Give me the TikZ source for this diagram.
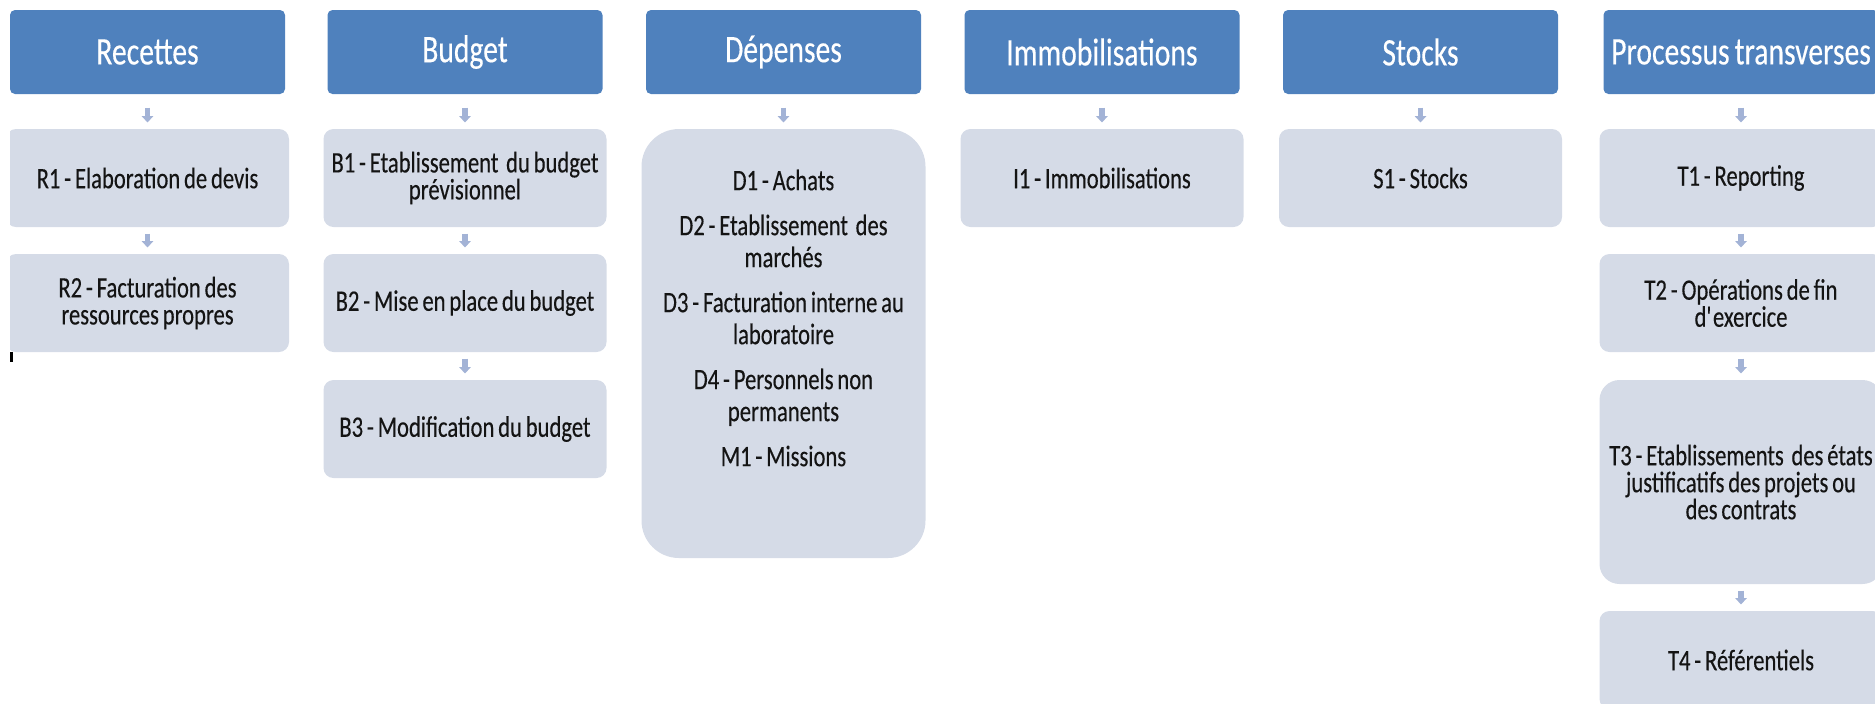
\documentclass[tikz,border=0pt]{standalone}
\usepackage{fontspec}
\setmainfont[FakeStretch=0.76, WordSpace=0.75, FakeBold=0.3]{Carlito}
\usetikzlibrary{arrows.meta}
\definecolor{hdrblue}{HTML}{4F81BD}
\definecolor{childfill}{HTML}{D5DBE7}
\definecolor{arrowc}{HTML}{A3B3D6}
\def\ux{0.4pt}
\tikzset{
  hdr/.style={fill=hdrblue, rounded corners=2pt, minimum width={275*\ux}, minimum height={84*\ux},
    inner sep=0pt, text=white, font=\fontsize{15.6}{17}\selectfont},
  child/.style={fill=childfill, rounded corners=4pt, minimum width={283*\ux}, minimum height={98*\ux},
    inner sep=0pt, align=center, text=black!92,
    font=\fontsize{11.9}{10.8}\selectfont},
  bigchild/.style={child, rounded corners=8pt},
  hugechild/.style={child, rounded corners=15pt},
  txt/.style={inner sep=0pt, align=center, text=black!92,
    font=\fontsize{11.9}{12.8}\selectfont},
  flowarrow/.style={draw=arrowc, line width=2.2pt, -{Triangle[width=4.6pt,length=2.6pt]}},
  harrow/.style={flowarrow, shorten <={13*\ux}, shorten >={6*\ux}},
  carrow/.style={flowarrow, shorten <={6*\ux}, shorten >={6*\ux}}
}
\begin{document}
\begin{tikzpicture}[x=0.4pt, y=-0.4pt]
\useasboundingbox (0,0) rectangle (1875,703);
\clip (0,0) rectangle (1875,703);
% headers
\node[hdr] (hR) at (147.5,52) {Recettes};
\node[hdr] (hB) at (465,52) {Budget};
\node[hdr] (hD) at (783.5,52) {Dépenses};
\node[hdr] (hI) at (1102,52) {Immobilisations};
\node[hdr] (hS) at (1420.5,52) {Stocks};
\node[hdr] (hT) at (1741,52) {Processus transverses};
% Recettes (clipped on the left)
\begin{scope}
  \clip (10,0) rectangle (400,703);
  \node[child] (r1) at (147.5,178) {R1 - Elaboration de devis};
  \node[child] (r2) at (147.5,303) {R2 - Facturation des\\ressources propres};
\end{scope}
% Budget
\node[child] (b1) at (465,178) {B1 - Etablissement\ \ du budget\\prévisionnel};
\node[child] (b2) at (465,303) {B2 - Mise en place du budget};
\node[child] (b3) at (465,429) {B3 - Modification du budget};
% Depenses
\node[hugechild, minimum width={284*\ux}, minimum height={429*\ux}] (d) at (783.5,343.5) {};
\node[txt, anchor=north] (dt) at (783.5,169)
  {D1 - Achats\\[5.2pt]
   D2 - Etablissement\ \ des\\marchés\\[5.2pt]
   D3 - Facturation interne au\\laboratoire\\[5.2pt]
   D4 - Personnels non\\permanents\\[5.2pt]
   M1 - Missions};
% Immobilisations
\node[child] (i1) at (1102,178) {I1 - Immobilisations};
% Stocks
\node[child] (s1) at (1420.5,178) {S1 - Stocks};
% Processus transverses
\node[child] (t1) at (1741,178) {T1 - Reporting};
\node[child] (t2) at (1741,303) {T2 - Opérations de fin\\d\textquotesingle exercice};
\node[bigchild, minimum height={204*\ux}] (t3) at (1741,482)
  {T3 - Etablissements\ \ des états\\justificatifs des projets ou\\des contrats};
\node[child] (t4) at (1741,660) {T4 - Référentiels};
% arrows
\draw[harrow] (hR) -- (r1);
\draw[carrow] (r1) -- (r2);
\draw[harrow] (hB) -- (b1);
\draw[carrow] (b1) -- (b2);
\draw[carrow] (b2) -- (b3);
\draw[harrow] (hD) -- (d);
\draw[harrow] (hI) -- (i1);
\draw[harrow] (hS) -- (s1);
\draw[harrow] (hT) -- (t1);
\draw[carrow] (t1) -- (t2);
\draw[carrow] (t2) -- (t3);
\draw[carrow] (t3) -- (t4);
% small mark
\fill[black] (10,352) rectangle (13,362);
\end{tikzpicture}
\end{document}
